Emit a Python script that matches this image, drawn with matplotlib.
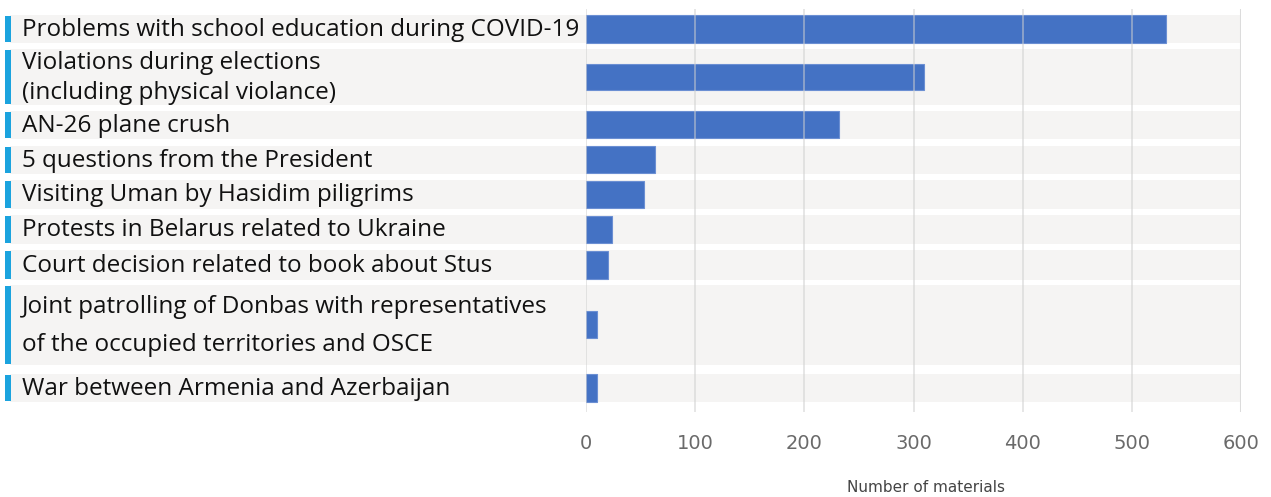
import matplotlib.pyplot as plt
from matplotlib.transforms import blended_transform_factory
from matplotlib.patches import Rectangle

# number of materials per topic
topics = [
    'Problems with school education during COVID-19',
    'Violations during elections\n(including physical violance)',
    'AN-26 plane crush',
    '5 questions from the President',
    'Visiting Uman by Hasidim piligrims',
    'Protests in Belarus related to Ukraine',
    'Court decision related to book about Stus',
    'Joint patrolling of Donbas with representatives\nof the occupied territories and OSCE',
    'War between Armenia and Azerbaijan',
]
materials = [531, 310, 232, 63, 53, 24, 20, 10, 10]
ticks = [0, 100, 200, 300, 400, 500, 600]

# row geometry (pixel rows of the figure, top -> bottom)
band_top = [15, 49, 111, 146, 180, 215, 250, 285, 374]
band_bot = [43, 105, 139, 174, 209, 244, 280, 365, 402]
bar_top = [15, 64, 111, 146, 181, 216, 251, 311, 374]
bar_bot = [43, 90, 138, 173, 208, 243, 279, 338, 402]
line_gap = [1.0, 1.3, 1.0, 1.0, 1.0, 1.0, 1.0, 1.75, 1.0]

W, H = 1271, 497
fig = plt.figure(figsize=(W / 100, H / 100), dpi=100)
ax = fig.add_axes([586 / W, 1 - 412 / H, 655 / W, 403 / H])
ax.set_xlim(0, 600)
ax.set_ylim(412, 9)

trans = blended_transform_factory(fig.transFigure, ax.transData)
for i, name in enumerate(topics):
    t, b = band_top[i], band_bot[i]
    ax.add_patch(Rectangle((10 / W, t), (1241 - 10) / W, b - t, transform=trans,
                           facecolor='#f5f4f3', edgecolor='none', zorder=0, clip_on=False))
    ax.add_patch(Rectangle((5 / W, t + 1), 6 / W, b - t - 2, transform=trans,
                           facecolor='#1ba3de', edgecolor='none', zorder=1, clip_on=False))
    ax.text(22 / W, (t + b) / 2 + 1, name, transform=trans, ha='left', va='center',
            fontsize=17.5, family='Open Sans', color='#111111', linespacing=line_gap[i])

centers = [(a + b) / 2 for a, b in zip(bar_top, bar_bot)]
heights = [b - a for a, b in zip(bar_top, bar_bot)]
ax.barh(centers, materials, height=heights, color='#4472c4', edgecolor='#6b8fd3',
        linewidth=0.8, zorder=2)

for x in ticks[:-1]:
    ax.axvline(x, color='#cfcfcf', lw=1.2, alpha=0.6, zorder=3)
ax.axvline(600, color='#dcdcdc', lw=2.2, zorder=3)

for s in ax.spines.values():
    s.set_visible(False)
ax.set_yticks([])
ax.set_xticks(ticks)
ax.set_xticklabels([str(v) for v in ticks], family=['Liberation Sans Narrow', 'DejaVu Sans'],
                   fontsize=14, color='#6a6a6a')
ax.tick_params(axis='x', length=0, pad=16)

fig.text(926 / W, 1 - 487 / H, 'Number of materials', ha='center', va='center',
         fontsize=11, family=['Liberation Sans Narrow', 'DejaVu Sans'], color='#444444')

fig.savefig('out.png', dpi=100)
